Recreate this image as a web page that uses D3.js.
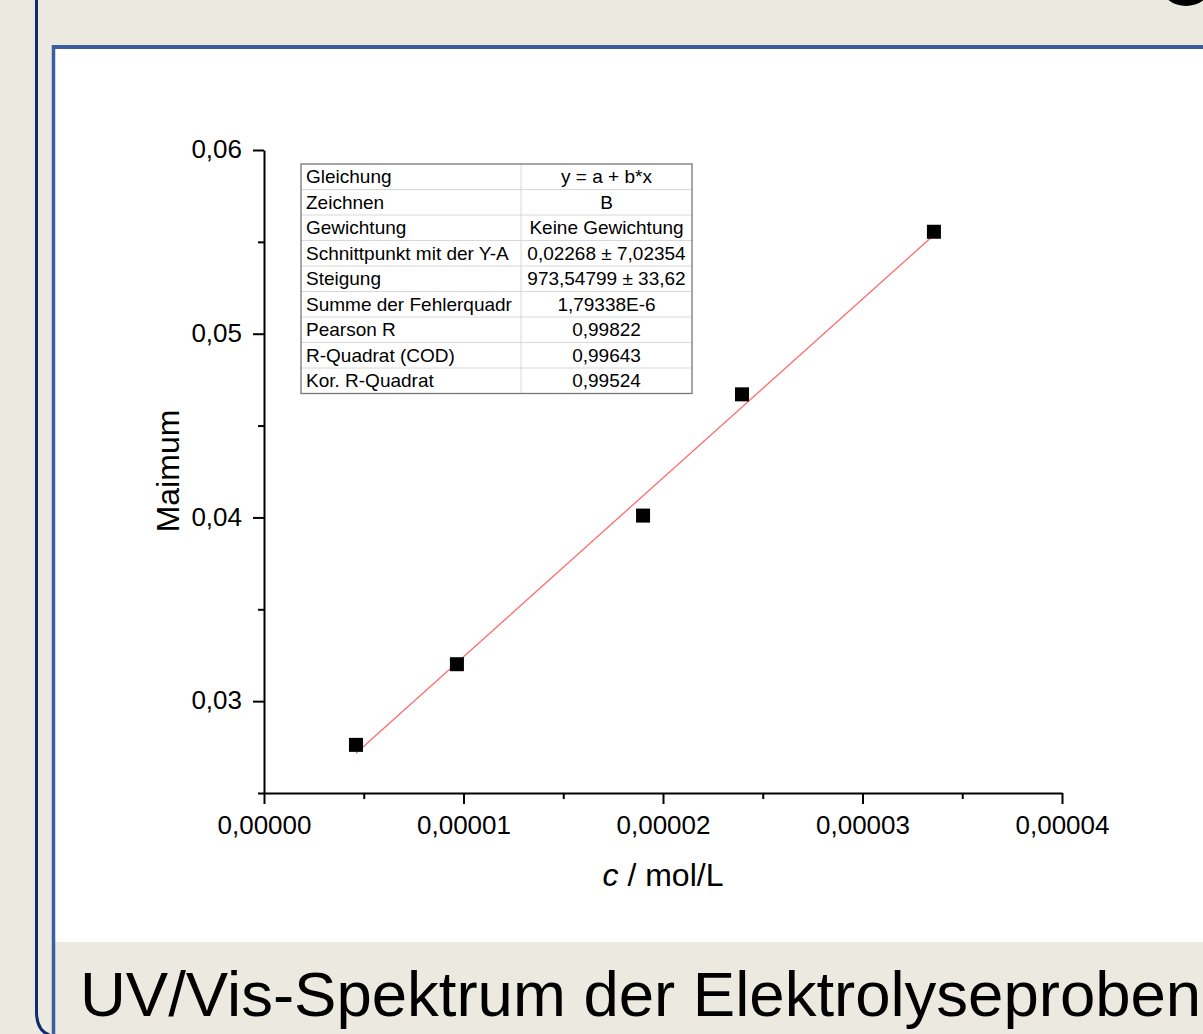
<!DOCTYPE html>
<html><head><meta charset="utf-8">
<script src="https://cdn.jsdelivr.net/npm/d3@7"></script>
<style>body{margin:0;background:#ECEAE0;overflow:hidden}svg{display:block}</style>
</head><body>
<svg id="c" width="1203" height="1034"></svg>
<script>
// data
const concentrations = [4.61e-6, 9.67e-6, 1.90e-5, 2.396e-5, 3.358e-5];
const maxima = [0.02762, 0.03201, 0.04010, 0.04670, 0.05555];
const fitIntercept = [0.02268];
const fitSlope = [973.54799];
const xTicks = [0, 0.00001, 0.00002, 0.00003, 0.00004];
const xMinorTicks = [0.000005, 0.000015, 0.000025, 0.000035];
const yTicks = [0.03, 0.04, 0.05, 0.06];
const yMinorTicks = [0.025, 0.035, 0.045, 0.055];
const tableLabels = ["Gleichung","Zeichnen","Gewichtung","Schnittpunkt mit der Y-A","Steigung","Summe der Fehlerquadr","Pearson R","R-Quadrat (COD)","Kor. R-Quadrat"];
const tableValues = ["y = a + b*x","B","Keine Gewichtung","0,02268 ± 7,02354","973,54799 ± 33,62","1,79338E-6","0,99822","0,99643","0,99524"];

const svg = d3.select("#c");
const F = "'Liberation Sans', Arial, sans-serif";

// frame / background
svg.append("rect").attr("x",0).attr("y",0).attr("width",1203).attr("height",1034).attr("fill","#ECEAE0");
svg.append("path").attr("d","M36.5,0 V1012 Q36.5,1032 52,1036").attr("fill","none").attr("stroke","#0F2C6E").attr("stroke-width",3);
svg.append("rect").attr("x",55).attr("y",49).attr("width",1150).attr("height",893).attr("fill","#ffffff");
svg.append("line").attr("x1",53.5).attr("x2",1203).attr("y1",47).attr("y2",47).attr("stroke","#3A5EA0").attr("stroke-width",4);
svg.append("line").attr("x1",53.5).attr("x2",53.5).attr("y1",45).attr("y2",1034).attr("stroke","#3A5EA0").attr("stroke-width",3.5);
svg.append("ellipse").attr("cx",1186).attr("cy",-13).attr("rx",24).attr("ry",19).attr("fill","#000");

svg.append("text").attr("x",80).attr("y",1016).attr("font-family",F).attr("font-size",63.5).attr("fill","#000")
  .text("UV/Vis-Spektrum der Elektrolyseproben");

// scales
const x = d3.scaleLinear().domain([0, 0.00004]).range([264, 1062]);
const y = d3.scaleLinear().domain([0.025, 0.06]).range([793, 150]);
const fmtX = d => d3.format(".5f")(d).replace(".", ",");
const fmtY = d => d3.format(".2f")(d).replace(".", ",");

const xAxis = svg.append("g").attr("transform","translate(0,793)")
  .call(d3.axisBottom(x).tickValues(xTicks).tickFormat(fmtX).tickSizeInner(11).tickSizeOuter(0).tickPadding(8));
const xMinor = svg.append("g").attr("transform","translate(0,793)")
  .call(d3.axisBottom(x).tickValues(xMinorTicks).tickFormat("").tickSizeInner(6).tickSizeOuter(0));
const yAxis = svg.append("g").attr("transform","translate(264,0)")
  .call(d3.axisLeft(y).tickValues(yTicks).tickFormat(fmtY).tickSizeInner(11).tickSizeOuter(0).tickPadding(11));
const yMinor = svg.append("g").attr("transform","translate(264,0)")
  .call(d3.axisLeft(y).tickValues(yMinorTicks).tickFormat("").tickSizeInner(6).tickSizeOuter(0));
[xAxis,xMinor,yAxis,yMinor].forEach(g=>{
  g.selectAll("path,line").attr("stroke","#000").attr("stroke-width",2);
  g.selectAll("text").attr("font-family",F).attr("font-size",26).attr("fill","#000");
});
xMinor.select("path").remove(); yMinor.select("path").remove();
xAxis.selectAll("text").attr("dy","0.85em");
yAxis.selectAll("text").attr("dy","0.3em");

// axis titles
const xt = svg.append("text").attr("x",663).attr("y",886).attr("text-anchor","middle").attr("font-family",F).attr("font-size",32).attr("fill","#000");
xt.append("tspan").attr("font-style","italic").text("c");
xt.append("tspan").text(" / mol/L");
svg.append("text").attr("transform","translate(179,471) rotate(-90)").attr("text-anchor","middle")
  .attr("font-family",F).attr("font-size",32).attr("fill","#000").text("Maimum");

// fit line
const xs = d3.extent(concentrations);
const fitLine = xs.map(v => [v, fitIntercept[0] + fitSlope[0]*v]);
svg.append("path").datum(fitLine)
  .attr("d", d3.line().x(d=>x(d[0])).y(d=>y(d[1])))
  .attr("stroke","#FF6B6B").attr("stroke-width",1.3).attr("fill","none");

// points
const S = 14;
svg.append("g").selectAll("rect").data(concentrations).join("rect")
  .attr("x",(d)=>x(d)-S/2).attr("y",(d,i)=>y(maxima[i])-S/2).attr("width",S).attr("height",S).attr("fill","#000");

// table
const tx0 = 301, tx1 = 521, tx2 = 692, ty0 = 164, rowH = 25.5;
const tbl = svg.append("g");
tbl.append("rect").attr("x",tx0).attr("y",ty0).attr("width",tx2-tx0).attr("height",rowH*tableLabels.length).attr("fill","#fff");
tbl.selectAll("line.r").data(d3.range(1,tableLabels.length)).join("line")
  .attr("x1",tx0).attr("x2",tx2).attr("y1",i=>ty0+i*rowH).attr("y2",i=>ty0+i*rowH).attr("stroke","#d8d8d8").attr("stroke-width",1);
tbl.append("line").attr("x1",tx1).attr("x2",tx1).attr("y1",ty0).attr("y2",ty0+rowH*tableLabels.length).attr("stroke","#d8d8d8").attr("stroke-width",1);
tbl.append("rect").attr("x",tx0).attr("y",ty0).attr("width",tx2-tx0).attr("height",rowH*tableLabels.length).attr("fill","none").attr("stroke","#777").attr("stroke-width",1.3);
tbl.selectAll("text.l").data(tableLabels).join("text")
  .attr("x",tx0+5).attr("y",(d,i)=>ty0+i*rowH+19).attr("font-family",F).attr("font-size",19).attr("fill","#000").text(d=>d);
tbl.selectAll("text.v").data(tableValues).join("text")
  .attr("x",(tx1+tx2)/2).attr("y",(d,i)=>ty0+i*rowH+19).attr("text-anchor","middle").attr("font-family",F).attr("font-size",19).attr("fill","#000").text(d=>d);
</script>
</body></html>
